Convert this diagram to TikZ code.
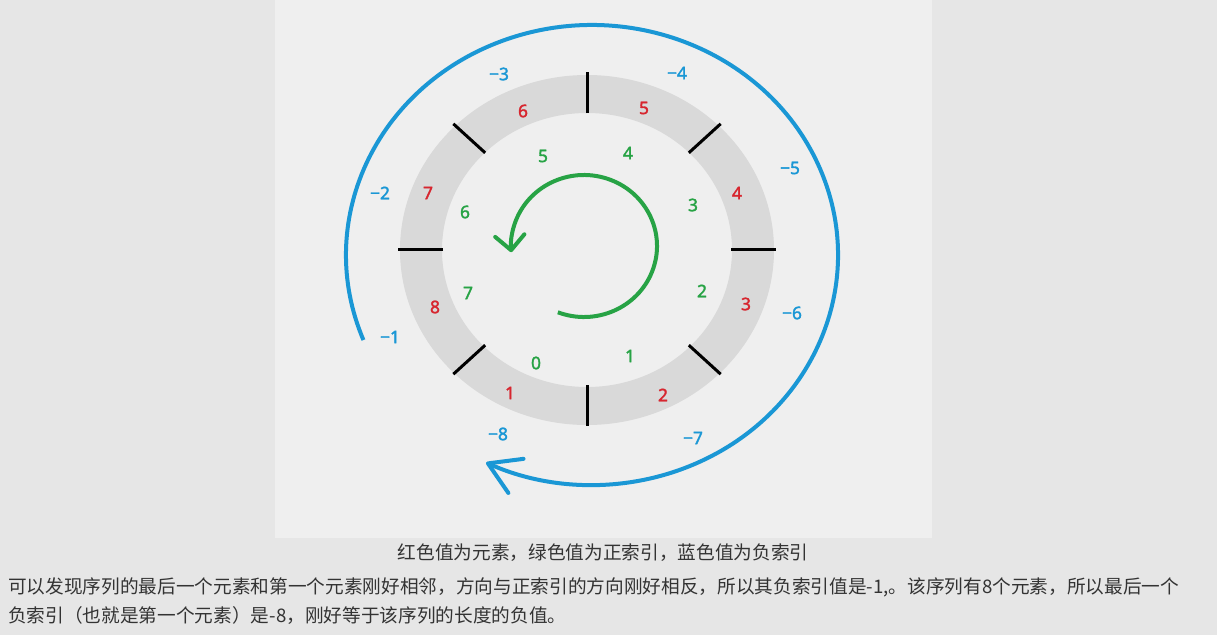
\documentclass[tikz,border=0pt]{standalone}
\usepackage{fontspec}
\setmainfont{Noto Sans}
\newfontface\digfont[FakeBold=2]{Noto Sans}
\newfontfamily\cjk{Noto Sans CJK SC}
\usetikzlibrary{arrows.meta}
\definecolor{bgout}{HTML}{E6E6E6}
\definecolor{panel}{HTML}{EFEFEF}
\definecolor{ringgray}{HTML}{D9D9D9}
\definecolor{redv}{HTML}{D7262F}
\definecolor{greenv}{HTML}{27A345}
\definecolor{bluev}{HTML}{1A97D5}
\definecolor{txt}{HTML}{333333}
\tikzset{
  elemval/.style={text=redv, font=\digfont\fontsize{13pt}{14pt}\selectfont, inner sep=0pt},
  posidx/.style={text=greenv, font=\digfont\fontsize{13pt}{14pt}\selectfont, inner sep=0pt},
  negidx/.style={text=bluev, font=\digfont\fontsize{13pt}{14pt}\selectfont, inner sep=0pt},
  tickline/.style={line width=2.25pt, black},
  bluearc/.style={line width=3pt, bluev, -{Straight Barb[length=23pt,width=28pt,round]}},
  greenarc/.style={line width=3pt, greenv, -{Straight Barb[length=11pt,width=22pt,round]}},
  cjktext/.style={text=txt, font=\cjk\fontsize{14pt}{16pt}\selectfont, inner sep=0pt}
}
\begin{document}
\begin{tikzpicture}[x=0.75pt,y=-0.75pt]
\fill[bgout] (0,0) rectangle (1217,635);
\useasboundingbox (0,0) rectangle (1217,635);
\fill[panel] (275,0) rectangle (932,538);
\coordinate (rc) at (587,250);
\coordinate (bc) at (592,255);
\coordinate (gc) at (584,246);
% ring
\fill[ringgray, even odd rule] (rc) ellipse [x radius=187, y radius=175] (rc) ellipse [x radius=145, y radius=137];
\foreach \a in {0,45,...,315}
  \draw[tickline] ([shift={(587,249)}]\a:144 and 136) -- ([shift={(587,249)}]\a:189 and 177);
% element values
\node[elemval] (e1) at (510,393) {1};
\node[elemval] (e2) at (663,395) {2};
\node[elemval] (e3) at (746,304) {3};
\node[elemval] (e4) at (737,193) {4};
\node[elemval] (e5) at (644,108) {5};
\node[elemval] (e6) at (523,111) {6};
\node[elemval] (e7) at (428,193) {7};
\node[elemval] (e8) at (435,307) {8};
% positive indices
\node[posidx] (p0) at (536,363) {0};
\node[posidx] (p1) at (630,356) {1};
\node[posidx] (p2) at (702,291) {2};
\node[posidx] (p3) at (693,205) {3};
\node[posidx] (p4) at (628,153) {4};
\node[posidx] (p5) at (543,156) {5};
\node[posidx] (p6) at (465,212) {6};
\node[posidx] (p7) at (468,293) {7};
% negative indices
\node[negidx] (n1) at (390,337) {−1};
\node[negidx] (n2) at (380,193) {−2};
\node[negidx] (n3) at (499,74) {−3};
\node[negidx] (n4) at (677,73) {−4};
\node[negidx] (n5) at (790,168) {−5};
\node[negidx] (n6) at (792,313) {−6};
\node[negidx] (n7) at (693,438) {−7};
\node[negidx] (n8) at (498,434) {−8};
% arcs
\draw[bluearc] ([shift={(592,255)}]158.3:246 and 230) arc[start angle=158.3, end angle=475.5, x radius=246, y radius=230];
\draw[greenarc] ([shift={(584,246)}]111:73 and 71) arc[start angle=111, end angle=-185, x radius=73, y radius=71];
% text
\node[cjktext] (cap) at (603,553) {红色值为元素，绿色值为正索引，蓝色值为负索引};
\node[cjktext, anchor=west] (l2) at (8,587) {可以发现序列的最后一个元素和第一个元素刚好相邻，方向与正索引的方向刚好相反，所以其负索引值是-1,。该序列有8个元素，所以最后一个};
\node[cjktext, anchor=west] (l3) at (8,616) {负索引（也就是第一个元素）是-8，刚好等于该序列的长度的负值。};
\end{tikzpicture}
\end{document}
